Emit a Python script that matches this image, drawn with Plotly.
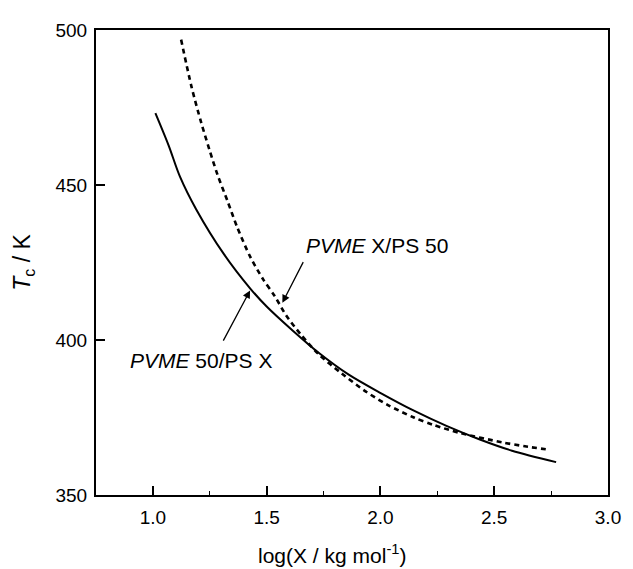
import plotly.graph_objects as go

# Solid curve: PVME 50/PS X
solid_x = [1.011, 1.069, 1.119, 1.19, 1.313, 1.428, 1.5, 1.615, 1.73, 1.859, 2.003, 2.147, 2.29, 2.434, 2.578, 2.772]
solid_y = [473.2, 462.8, 452.7, 442.2, 427.6, 416.6, 410.8, 403.0, 395.8, 388.9, 382.8, 377.2, 372.3, 368.0, 364.3, 360.6]

# Dashed curve: PVME X/PS 50
dashed_x = [1.124, 1.169, 1.212, 1.248, 1.284, 1.328, 1.371, 1.428, 1.486, 1.536, 1.586, 1.65, 1.73, 1.83, 1.931, 2.031, 2.147, 2.233, 2.35, 2.534, 2.635, 2.743]
dashed_y = [496.9, 481.9, 470.2, 461.5, 453.3, 444.8, 436.3, 426.8, 419.4, 414.1, 407.9, 401.8, 395.3, 389.2, 383.6, 379.1, 375.0, 372.6, 370.0, 367.0, 365.7, 364.6]

x_ticks = [1.0, 1.5, 2.0, 2.5, 3.0]
x_tick_labels = ["1.0", "1.5", "2.0", "2.5", "3.0"]
y_ticks = [350, 400, 450, 500]
y_tick_labels = ["350", "400", "450", "500"]

FONT = "Liberation Sans, Arial, sans-serif"

fig = go.Figure()
fig.add_trace(go.Scatter(x=solid_x, y=solid_y, mode="lines",
                         line=dict(color="black", width=2, shape="spline", smoothing=0.9),
                         showlegend=False, hoverinfo="skip"))
fig.add_trace(go.Scatter(x=dashed_x, y=dashed_y, mode="lines",
                         line=dict(color="black", width=2.6, dash="5px,4px", shape="spline", smoothing=0.8),
                         showlegend=False, hoverinfo="skip"))

# Arrows
fig.add_annotation(x=1.427, y=416.0, ax=1.306, ay=399.3, xref="x", yref="y", axref="x", ayref="y",
                   text="", showarrow=True, arrowhead=2, arrowsize=1.2, arrowwidth=1.3, arrowcolor="black")
fig.add_annotation(x=1.569, y=412.0, ax=1.664, ay=425.6, xref="x", yref="y", axref="x", ayref="y",
                   text="", showarrow=True, arrowhead=2, arrowsize=1.2, arrowwidth=1.3, arrowcolor="black")
# Labels
fig.add_annotation(x=0.892, y=393.5, xref="x", yref="y", text="<i>PVME</i> 50/PS X", showarrow=False,
                   xanchor="left", yanchor="middle", font=dict(family=FONT, size=21, color="black"))
fig.add_annotation(x=1.664, y=430.4, xref="x", yref="y", text="<i>PVME</i> X/PS 50", showarrow=False,
                   xanchor="left", yanchor="middle", font=dict(family=FONT, size=21, color="black"))
# X axis title
fig.add_annotation(x=0.461, y=-0.127, xref="paper", yref="paper", text="log(X / kg mol<sup>-1</sup>)",
                   showarrow=False, xanchor="center", yanchor="middle",
                   font=dict(family=FONT, size=21, color="black"))

axis_common = dict(showline=True, linecolor="black", linewidth=2, mirror=True, showgrid=False, zeroline=False,
                   ticks="inside", ticklen=9, tickwidth=1.5, tickcolor="black",
                   tickfont=dict(family=FONT, size=19, color="black"))

fig.update_xaxes(range=[0.75, 3.0], tickvals=x_ticks, ticktext=x_tick_labels, ticklabelstandoff=4,
                 minor=dict(ticks="inside", ticklen=4, tickwidth=1.2, tickcolor="black", dtick=0.25, tick0=0.75),
                 **axis_common)
fig.update_yaxes(range=[350, 500], tickvals=y_ticks, ticktext=y_tick_labels, ticklabelstandoff=3,
                 title=dict(text="<i>T</i><sub>c</sub> / K", font=dict(family=FONT, size=23, color="black"), standoff=18),
                 **axis_common)

fig.update_layout(width=625, height=561, margin=dict(l=88, r=16, t=15, b=74),
                  plot_bgcolor="white", paper_bgcolor="white")

fig.write_html("out.html")
